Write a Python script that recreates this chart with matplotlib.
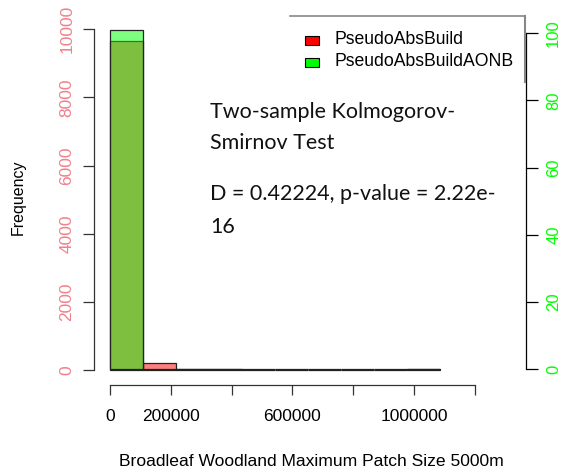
import numpy as np
import matplotlib
matplotlib.use("Agg")
import matplotlib.pyplot as plt
from matplotlib.lines import Line2D
from matplotlib.patches import Rectangle

# histogram breaks (10 equal bins from 0 to the max patch size)
bin_edges = [0, 108500, 217000, 325500, 434000, 542500, 651000, 759500, 868000, 976500, 1085000]
counts_build = [9660, 195, 30, 30, 0, 0, 0, 0, 0, 40]
counts_aonb = [101, 0, 0, 0, 0, 0, 0, 0, 0, 0]

x_ticks = [0, 200000, 400000, 600000, 800000, 1000000, 1200000]
x_labels = ["0", "200000", "", "600000", "", "1000000", ""]
y_ticks = [0, 2000, 4000, 6000, 8000, 10000]
y2_ticks = [0, 20, 40, 60, 80, 100]

legend_names = ["PseudoAbsBuild", "PseudoAbsBuildAONB"]
ks_lines = ["Two-sample Kolmogorov-", "Smirnov Test",
            "D = 0.42224, p-value = 2.22e-", "16"]

W, H = 569, 475
plt.rcParams['font.family'] = ['Liberation Sans', 'DejaVu Sans']

fig = plt.figure(figsize=(W / 100, H / 100), dpi=100)


def fx(px):
    return px / W


def fy(py):
    return 1 - py / H


ax = fig.add_axes([fx(94), fy(385), fx(526 - 94), (385 - 16) / H])
ax.set_xlim(-52600, 1367700)
ax.set_ylim(-440, 10390)

left = np.array(bin_edges[:-1])
widths = np.diff(bin_edges)

ax.bar(left, counts_build, width=widths, align='edge',
       color=(1, 0, 0, 0.5), edgecolor='#222222', linewidth=0.9)

for s in ['top', 'right']:
    ax.spines[s].set_visible(False)
ax.spines['left'].set_bounds(0, 10000)
ax.spines['bottom'].set_bounds(0, 1200000)
for s in ['left', 'bottom']:
    ax.spines[s].set_linewidth(0.9)
    ax.spines[s].set_color('#333333')

ax.set_yticks(y_ticks)
ax.set_yticklabels([str(v) for v in y_ticks], rotation=90, va='center',
                   color='#F0808C', fontsize=12.5)
ax.tick_params(axis='y', length=8, width=0.9, pad=6, color='#333333')

ax.set_xticks(x_ticks)
ax.set_xticklabels(x_labels, fontsize=12.5, color='black')
ax.tick_params(axis='x', length=7.2, width=0.9, pad=10, color='#333333')

# second histogram on its own frequency scale
ax2 = ax.twinx()
ax2.set_ylim(-4.77, 105.15)
ax2.bar(left, counts_aonb, width=widths, align='edge',
        color=(0, 1, 0, 0.5), edgecolor='#222222', linewidth=0.9)
for s in ['top', 'left', 'bottom']:
    ax2.spines[s].set_visible(False)
ax2.spines['right'].set_bounds(0, 100)
ax2.spines['right'].set_linewidth(0.9)
ax2.set_yticks(y2_ticks)
ax2.set_yticklabels([str(v) for v in y2_ticks], rotation=90, va='center',
                    color='#00FF00', fontsize=12)
ax2.tick_params(axis='y', length=8.5, width=0.9, pad=6)

fig.text(fx(18), fy(197), "Frequency", rotation=90, ha='center', va='center',
         fontsize=11.5)
fig.text(fx(311), fy(462), "Broadleaf Woodland Maximum Patch Size 5000m",
         ha='center', va='center', fontsize=12.6)

# legend (partly hidden behind the text box)
fig.add_artist(Line2D([fx(290), fx(525)], [fy(16), fy(16)], color='#888888', lw=1.2))
fig.add_artist(Line2D([fx(525), fx(525)], [fy(16), fy(82)], color='#888888', lw=1.5))
for i, (name, col) in enumerate(zip(legend_names, ['#FF0000', '#00FF00'])):
    yc = 40 + i * 22
    fig.add_artist(Rectangle((fx(305), fy(yc + 4.5)), 14 / W, 9 / H,
                             facecolor=col, edgecolor='black', lw=0.8))
    fig.text(fx(335), fy(yc), name, ha='left', va='center', fontsize=12.7)

# KS test annotation
for txt, yc in zip(ks_lines, [112, 143, 194, 227]):
    fig.text(fx(210), fy(yc), txt, ha='left', va='center', fontsize=15.5,
             family=['Lato', 'DejaVu Sans'], color='#111111')

fig.savefig("out.png", dpi=100)
